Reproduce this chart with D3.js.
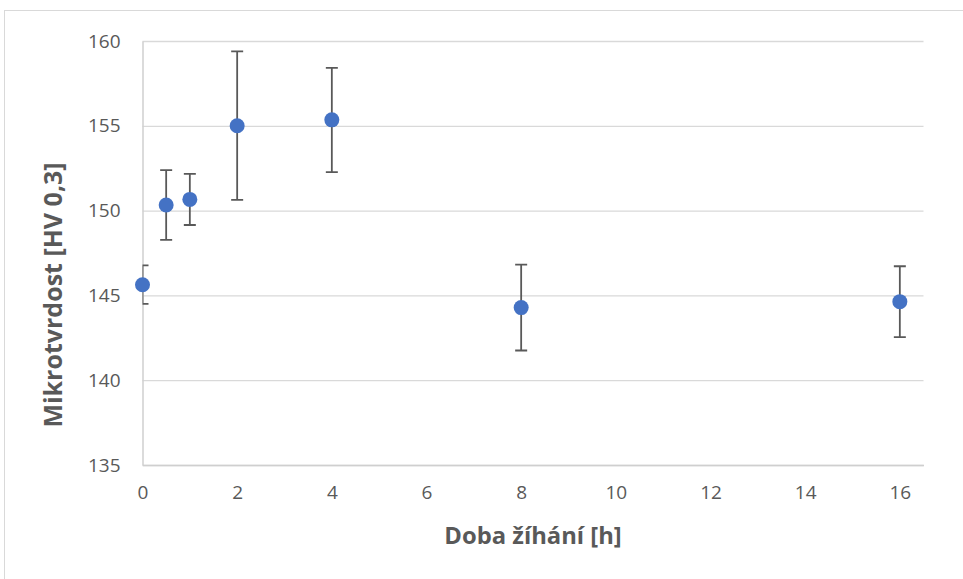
<!DOCTYPE html>
<html>
<head>
<meta charset="utf-8">
<script src="https://cdn.jsdelivr.net/npm/d3@7"></script>
<style>
  html, body { margin: 0; padding: 0; background: #fff; }
  svg { display: block; }
</style>
</head>
<body>
<svg id="chart" width="963" height="579"></svg>
<script>
// Data
const annealTime = [0, 0.5, 1, 2, 4, 8, 16];            // Doba žíhání [h]
const hardness   = [145.63, 150.33, 150.66, 155.0, 155.35, 144.28, 144.63]; // HV 0,3
const errPlus    = [1.14, 2.06, 1.51, 4.39, 3.07, 2.53, 2.09];
const errMinus   = [1.13, 2.06, 1.51, 4.37, 3.08, 2.53, 2.09];
const xTicks = [0, 2, 4, 6, 8, 10, 12, 14, 16];
const yTicks = [135, 140, 145, 150, 155, 160];
const xTitle = "Doba žíhání [h]";
const yTitle = "Mikrotvrdost [HV 0,3]";

const svg = d3.select("#chart");
const plot = { left: 142.5, right: 923.5, top: 41, bottom: 465 };

const x = d3.scaleLinear().domain([0, 16.5]).range([plot.left, plot.right]);
const y = d3.scaleLinear().domain([135, 160]).range([plot.bottom, plot.top]);

const font = "'Open Sans', 'Noto Sans', sans-serif";
const textColor = "#595959";

// Outer chart border
svg.append("rect")
  .attr("x", 4.5).attr("y", 10.5)
  .attr("width", 1000).attr("height", 1000)
  .attr("fill", "none").attr("stroke", "#d9d9d9").attr("stroke-width", 1);

// Gridlines
const yGrid = d3.axisLeft(y).tickValues(yTicks).tickSize(-(plot.right - plot.left)).tickFormat("");
svg.append("g")
  .attr("transform", `translate(${plot.left},0)`)
  .call(yGrid)
  .call(g => g.select(".domain").remove())
  .call(g => g.selectAll("line").attr("stroke", "#d9d9d9").attr("stroke-width", 1.3));

// Y axis line + labels
const yAxis = d3.axisLeft(y).tickValues(yTicks).tickSize(0).tickPadding(22).tickFormat(d3.format("d"));
svg.append("g")
  .attr("transform", `translate(${plot.left},0)`)
  .call(yAxis)
  .call(g => g.select(".domain").attr("stroke", "#cfcfcf").attr("stroke-width", 1.5))
  .call(g => g.selectAll("text")
    .attr("fill", textColor)
    .style("font-family", font)
    .style("font-size", "19px"));

// X axis line + labels
const xAxis = d3.axisBottom(x).tickValues(xTicks).tickSize(0).tickPadding(21).tickFormat(d3.format("d"));
svg.append("g")
  .attr("transform", `translate(0,${plot.bottom})`)
  .call(xAxis)
  .call(g => g.select(".domain").attr("stroke", "#cfcfcf").attr("stroke-width", 1.5))
  .call(g => g.selectAll("text")
    .attr("fill", textColor)
    .style("font-family", font)
    .style("font-size", "19px"));

// Clip for error bars (to plot area)
svg.append("defs").append("clipPath").attr("id", "plotClip")
  .append("rect")
  .attr("x", plot.left).attr("y", plot.top - 20)
  .attr("width", plot.right - plot.left).attr("height", plot.bottom - plot.top + 20);

const data = annealTime.map((t, i) => ({ t, v: hardness[i], p: errPlus[i], m: errMinus[i] }));

// Error bars
const eb = svg.append("g").attr("clip-path", "url(#plotClip)")
  .attr("stroke", "#595959").attr("stroke-width", 1.8).attr("fill", "none");
const capW = 6;
eb.selectAll("path.err").data(data).join("path")
  .attr("class", "err")
  .attr("d", d => {
    const cx = x(d.t), top = y(d.v + d.p), bot = y(d.v - d.m);
    return `M${cx},${top}V${bot}M${cx - capW},${top}H${cx + capW}M${cx - capW},${bot}H${cx + capW}`;
  });

// Points
svg.append("g").selectAll("circle").data(data).join("circle")
  .attr("cx", d => x(d.t))
  .attr("cy", d => y(d.v))
  .attr("r", 7.5)
  .attr("fill", "#4472C4");

// Axis titles
svg.append("text")
  .attr("x", 533)
  .attr("y", 544)
  .attr("text-anchor", "middle")
  .attr("fill", textColor)
  .style("font-family", font)
  .style("font-weight", "bold")
  .style("font-size", "23.8px")
  .text(xTitle);

svg.append("text")
  .attr("transform", "translate(62,295) rotate(-90)")
  .attr("text-anchor", "middle")
  .attr("fill", textColor)
  .style("font-family", font)
  .style("font-weight", "bold")
  .style("font-size", "25px")
  .text(yTitle);
</script>
</body>
</html>
